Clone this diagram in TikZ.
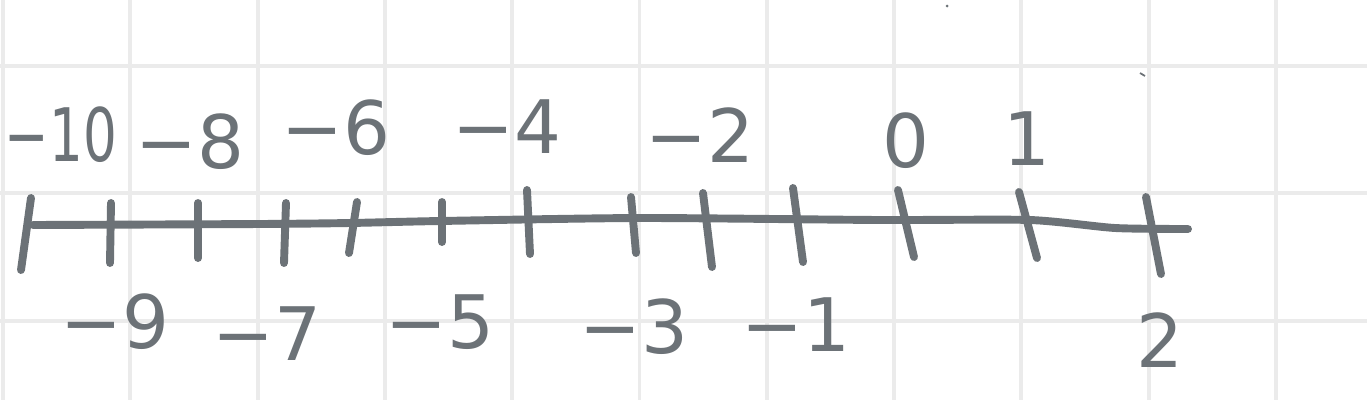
\documentclass[tikz,border=0pt]{standalone}
\usepackage{fontspec}
\setmainfont{DejaVu Sans}
\definecolor{pen}{RGB}{108,114,119}
\definecolor{gridgray}{RGB}{235,235,235}
\begin{document}
\begin{tikzpicture}[x=0.02cm,y=-0.02cm,
    lbl/.style={text=pen,font=\fontsize{42}{46}\selectfont,inner sep=0pt},
    stroke/.style={draw=pen,line width=4.5pt,line cap=round,line join=round}]
  \useasboundingbox[fill=white] (0,0) rectangle (1367,400);
  % grid paper
  \foreach \i in {0,...,10}
    \draw[gridgray,line width=2.2pt] (3+127.3*\i,0) -- (3+127.3*\i,400);
  \foreach \j in {0,1,2}
    \draw[gridgray,line width=2.2pt] (0,66+127.3*\j) -- (1367,66+127.3*\j);
  % the line
  \coordinate (start) at (33,225);
  \coordinate (end) at (1188,229);
  \draw[stroke] plot[smooth,tension=0.4] coordinates
    {(start) (260,224) (350,223) (440,221) (640,218) (880,220) (1030,220) (1115,228) (end)};
  % ticks
  \foreach \xa/\ya/\xb/\yb in {31/198/21/270, 111/203/110/263, 198/203/198/258,
      286/203/284/263, 357/202/349/253, 442/202/442/242, 527/190/530/254,
      631/197/636/253, 703/193/712/267, 793/188/803/262, 898/190/914/257,
      1019/192/1037/258, 1146/197/1161/274}
    \draw[stroke] (\xa,\ya) -- (\xb,\yb);
  % labels above
  \node[lbl] (m10) at (61,135) {\scalebox{0.72}[1]{−10}};
  \node[lbl] (m8) at (190,142) {−8};
  \node[lbl] (m6) at (336,128) {−6};
  \node[lbl] (m4) at (507,127) {−4};
  \node[lbl] (m2) at (700,135) {−2};
  \node[lbl] (p0) at (906,141) {0};
  \node[lbl] (p1) at (1027,139) {1};
  % labels below
  \node[lbl] (m9) at (115,322) {−9};
  \node[lbl] (m7) at (267,334) {−7};
  \node[lbl] (m5) at (440,322) {−5};
  \node[lbl] (m3) at (634,327) {−3};
  \node[lbl] (m1) at (796,325) {−1};
  \node[lbl] (p2) at (1160,340) {2};
  % stray marks
  \fill[pen] (947,6) circle (1.5);
  \draw[pen,line width=1pt] (1140,73) -- (1145,76);
\end{tikzpicture}
\end{document}
